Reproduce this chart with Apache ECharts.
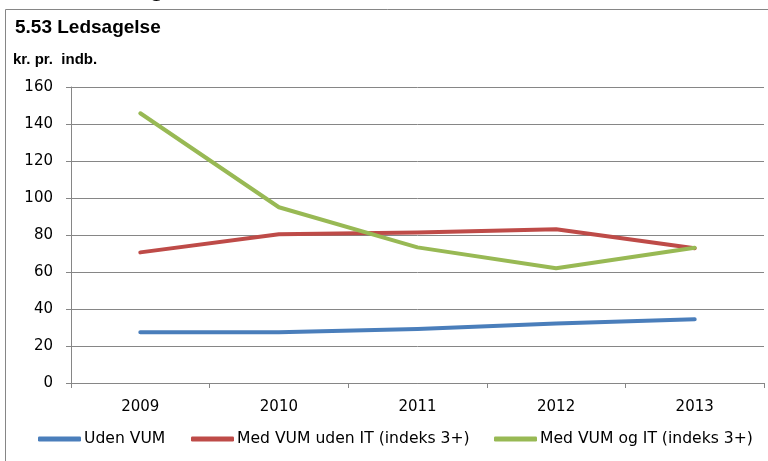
<!DOCTYPE html>
<html>
<head>
<meta charset="utf-8">
<script src="https://cdn.jsdelivr.net/npm/echarts@6/dist/echarts.min.js"></script>
<style>
  html, body { margin: 0; padding: 0; background: #fff; }
  #chart { width: 768px; height: 461px; }
</style>
</head>
<body>
<div id="chart"></div>
<script>
// Ledsagelse, kr. pr. indb., 2009-2013
var years = ['2009', '2010', '2011', '2012', '2013'];
var seriesNames = ['Uden VUM', 'Med VUM uden IT (indeks 3+)', 'Med VUM og IT (indeks 3+)'];
var udenVum = [27.4, 27.4, 29.2, 32.1, 34.4];
var medVumUdenIt = [70.6, 80.4, 81.4, 83.1, 72.8];
var medVumOgIt = [145.8, 95.0, 73.3, 62.0, 73.1];
var yTicks = { min: 0, max: 160, step: 20 };

var colors = ['#4a7ebb', '#be4b48', '#98b954'];
var values = [udenVum, medVumUdenIt, medVumOgIt];
var legendLeft = [38, 191, 494];

var labelFont = 'DejaVu Sans';
var gridColor = '#868686';

var chart = echarts.init(document.getElementById('chart'), null, { renderer: 'canvas' });

var series = seriesNames.map(function (name, i) {
  return {
    name: name,
    type: 'line',
    data: values[i],
    symbol: 'none',
    smooth: false,
    lineStyle: { color: colors[i], width: 4, cap: 'round', join: 'round' },
    itemStyle: { color: colors[i] },
    z: 3 + i
  };
});

var legends = seriesNames.map(function (name, i) {
  return {
    data: [name],
    left: legendLeft[i],
    top: 431,
    icon: 'roundRect',
    itemWidth: 43,
    itemHeight: 5,
    itemGap: 0,
    padding: 0,
    selectedMode: false,
    textStyle: { fontFamily: labelFont, fontSize: 15.6, color: '#000', padding: [0, 0, 0, -2] }
  };
});

chart.setOption({
  animation: false,
  backgroundColor: '#fff',
  graphic: [
    {
      // page heading above the chart frame, mostly outside the canvas
      type: 'text',
      left: 0, top: -28,
      style: { text: '5.53 Ledsagelse', font: '30px "Liberation Sans"', fill: '#000' }
    },
    {
      type: 'rect',
      shape: { x: 5.5, y: 9.5, width: 800, height: 500 },
      style: { fill: 'none', stroke: gridColor, lineWidth: 1 },
      z: -1
    },
    {
      type: 'text',
      left: 15, top: 18,
      style: { text: '5.53 Ledsagelse', font: 'bold 19px "Liberation Sans"', fill: '#000' }
    },
    {
      type: 'text',
      left: 13, top: 52,
      style: { text: 'kr. pr.  indb.', font: 'bold 15px "Liberation Sans"', fill: '#000' }
    }
  ],
  legend: legends,
  grid: { left: 71, right: 4, top: 87, bottom: 78, containLabel: false },
  xAxis: {
    type: 'category',
    data: years,
    boundaryGap: true,
    axisLine: { show: true, lineStyle: { color: gridColor, width: 1 } },
    axisTick: { show: true, length: 5, alignWithLabel: false, lineStyle: { color: gridColor } },
    axisLabel: { fontFamily: labelFont, fontSize: 15, color: '#000', margin: 17 },
    splitLine: { show: false }
  },
  yAxis: {
    type: 'value',
    min: yTicks.min,
    max: yTicks.max,
    interval: yTicks.step,
    axisLine: { show: true, lineStyle: { color: gridColor, width: 1 } },
    axisTick: { show: true, length: 5, lineStyle: { color: gridColor } },
    axisLabel: { fontFamily: labelFont, fontSize: 15, color: '#000', margin: 18 },
    splitLine: { show: true, lineStyle: { color: gridColor, width: 1 } }
  },
  series: series
});
</script>
</body>
</html>
